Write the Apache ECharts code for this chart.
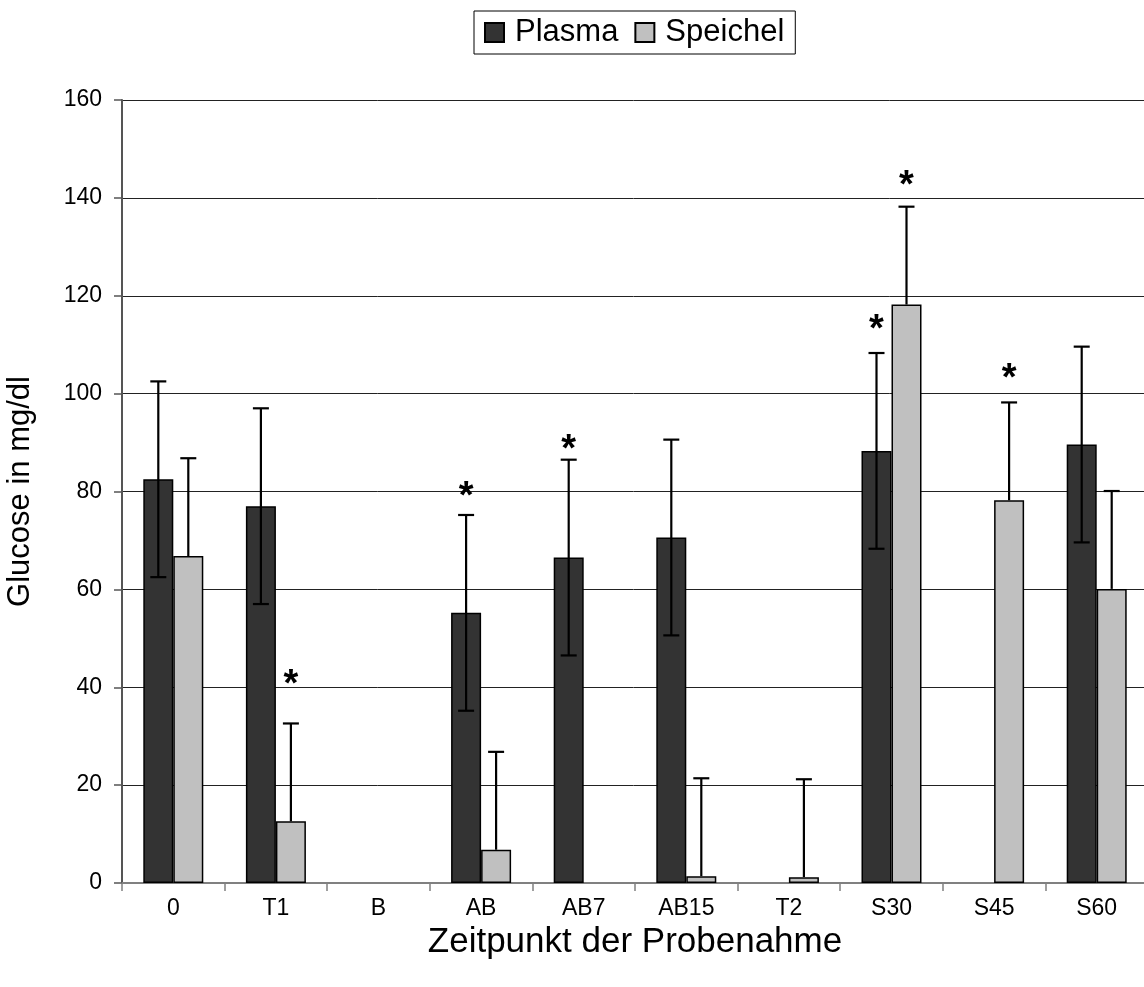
<!DOCTYPE html>
<html><head><meta charset="utf-8">
<script src="https://cdn.jsdelivr.net/npm/echarts@6/dist/echarts.min.js"></script>
<style>html,body{margin:0;padding:0;background:#fff}#c{width:1144px;height:987px}</style>
</head><body><div id="c"></div>
<script>
const categories = ['0','T1','B','AB','AB7','AB15','T2','S30','S45','S60'];
const plasma     = [82.5, 77.0, null, 55.2, 66.5, 70.6, null, 88.3, null, 89.6];
const plasmaSD   = [20, 20, null, 20, 20, 20, null, 20, null, 20];
const speichel   = [66.8, 12.6, null, 6.8, null, 1.4, 1.2, 118.2, 78.2, 60.1];
const speichelSD = [20, 20, null, 20, null, 20, 20, 20, 20, 20];
// y positions (data units) of significance stars
const plasmaStars   = [null, null, null, 80.9, 90.5, null, null, 115.0, null, null];
const speichelStars = [null, 42.5, null, null, null, null, null, 144.3, 105.0, null];
const yTicks = [0, 20, 40, 60, 80, 100, 120, 140, 160];

const FONT = "'Liberation Sans', Arial, sans-serif";
const BAR_W = 30;
const HALF = BAR_W / 2;

function errSeries(name, vals, sds, sign, both) {
  const data = [];
  vals.forEach((v, i) => { if (v != null && sds[i] != null) data.push([i, v, sds[i]]); });
  return {
    type: 'custom', name: name, z: 10, silent: true,
    renderItem: function (params, api) {
      const i = api.value(0), v = api.value(1), sd = api.value(2);
      const c = api.coord([i, v]);
      const x = c[0] + sign * HALF;
      const top = api.coord([i, v + sd])[1];
      const bot = both ? api.coord([i, v - sd])[1] : c[1];
      const st = { stroke: '#000', lineWidth: 2.2 };
      const ch = [
        { type: 'line', shape: { x1: x, y1: top, x2: x, y2: bot }, style: st },
        { type: 'line', shape: { x1: x - 8, y1: top, x2: x + 8, y2: top }, style: st }
      ];
      if (both) ch.push({ type: 'line', shape: { x1: x - 8, y1: bot, x2: x + 8, y2: bot }, style: st });
      return { type: 'group', children: ch };
    },
    data: data
  };
}
function starSeries(name, stars, sign) {
  const data = [];
  stars.forEach((v, i) => { if (v != null) data.push([i, v]); });
  return {
    type: 'custom', name: name, z: 11, silent: true,
    renderItem: function (params, api) {
      const c = api.coord([api.value(0), api.value(1)]);
      return {
        type: 'text',
        style: { text: '*', x: c[0] + sign * HALF, y: c[1] + 10, align: 'center', verticalAlign: 'middle',
                 font: 'bold 38px ' + FONT, fill: '#000' }
      };
    },
    data: data
  };
}

const chart = echarts.init(document.getElementById('c'));
chart.setOption({
  backgroundColor: '#fff',
  animation: false,
  legend: {
    data: ['Plasma', 'Speichel'],
    top: 11, left: 474,
    icon: 'rect', itemWidth: 19, itemHeight: 19, itemGap: 16,
    borderColor: '#000', borderWidth: 1, padding: [6, 11, 6, 10],
    textStyle: { fontFamily: FONT, fontSize: 31, color: '#000', padding: [0, 0, 0, 6] }
  },
  grid: { left: 122, top: 100, width: 1026, height: 783, outerBoundsMode: 'none', containLabel: false },
  xAxis: {
    type: 'category', data: categories,
    name: 'Zeitpunkt der Probenahme', nameLocation: 'middle', nameGap: 40,
    nameTextStyle: { fontFamily: FONT, fontSize: 35, color: '#000' },
    axisLine: { lineStyle: { color: '#808080', width: 2 } },
    axisTick: { show: true, length: 8, lineStyle: { color: '#808080', width: 1.5 } },
    axisLabel: { fontFamily: FONT, fontSize: 23, color: '#000', margin: 14 }
  },
  yAxis: {
    type: 'value', min: yTicks[0], max: yTicks[yTicks.length - 1], interval: 20,
    name: 'Glucose in mg/dl', nameLocation: 'middle', nameGap: 86, nameRotate: 90,
    nameTextStyle: { fontFamily: FONT, fontSize: 31, color: '#000' },
    axisLine: { show: true, lineStyle: { color: '#555', width: 2 } },
    axisTick: { show: true, inside: false, length: 8, lineStyle: { color: '#555', width: 1.5 } },
    axisLabel: { fontFamily: FONT, fontSize: 23, color: '#000', margin: 20 },
    splitLine: { show: true, lineStyle: { color: '#222', width: 1 } }
  },
  series: [
    { name: 'Plasma', type: 'bar', data: plasma, barWidth: BAR_W, barGap: '0%',
      itemStyle: { color: '#333333', borderColor: '#000', borderWidth: 1.5 } },
    { name: 'Speichel', type: 'bar', data: speichel, barWidth: BAR_W, barGap: '0%',
      itemStyle: { color: '#c0c0c0', borderColor: '#000', borderWidth: 1.5 } },
    errSeries('PlasmaErr', plasma, plasmaSD, -1, true),
    errSeries('SpeichelErr', speichel, speichelSD, 1, false),
    starSeries('PlasmaStar', plasmaStars, -1),
    starSeries('SpeichelStar', speichelStars, 1)
  ]
});
</script></body></html>
